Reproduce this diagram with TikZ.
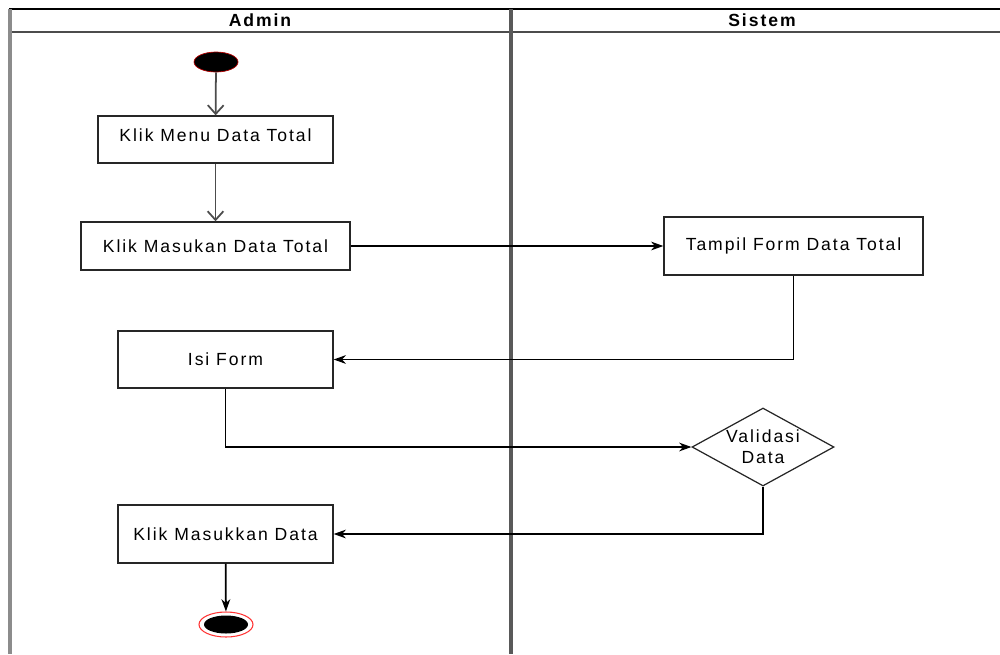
\documentclass[tikz,border=0pt]{standalone}
\usepackage{fontspec}
\setmainfont{Liberation Sans}
\newfontfamily\lanefont[LetterSpace=11]{Liberation Sans}
\usetikzlibrary{shapes.geometric,arrows.meta}
\begin{document}
\begin{tikzpicture}[x=0.2mm,y=-0.2mm,
  every node/.style={font=\lanefont\fontsize{10}{12}\selectfont},
  actbox/.style={draw=black!85,line width=0.8pt,fill=white,rectangle,inner sep=0pt},
  decbox/.style={draw=black!85,line width=0.7pt,diamond,aspect=1.82,inner sep=0pt,align=center},
  flow/.style={-{Stealth[length=7pt,width=5pt]},line width=0.6pt},
  vflow/.style={-{Straight Barb[length=5pt,width=9pt]},line width=1pt,black!70},
  lane/.style={line width=2.5pt,black!65}]
\useasboundingbox (0,0) rectangle (1000,654);
% swimlanes
\draw[line width=1pt] (9,9) -- (1000,9);
\draw[line width=1.2pt,black!70] (9,32) -- (1000,32);
\draw[lane,black!45] (10,9) -- (10,654);
\draw[lane] (511,9) -- (511,654);
\node[font=\lanefont\bfseries\fontsize{10}{12}\selectfont] (admin) at (260,20) {Admin};
\node[font=\lanefont\bfseries\fontsize{10}{12}\selectfont] (sistem) at (762,20) {Sistem};
% start / end
\node[ellipse,fill=black,draw=red!70!black,minimum width=44*0.2mm,minimum height=20*0.2mm,inner sep=0pt] (start) at (216,62) {};
\node[ellipse,draw=red!80,line width=0.6pt,minimum width=54*0.2mm,minimum height=25*0.2mm,inner sep=0pt,
  path picture={\fill[black] (path picture bounding box.center) ellipse [x radius=22*0.2mm,y radius=9*0.2mm];}] (stop) at (226,624.5) {};
% activities
\node[actbox,minimum width=235*0.2mm,minimum height=47*0.2mm] (menu) at (215.5,139.5) {\raisebox{5pt}{Klik Menu Data Total}};
\node[actbox,minimum width=269*0.2mm,minimum height=48*0.2mm] (masuk) at (215.5,246) {Klik Masukan Data Total};
\node[actbox,minimum width=259*0.2mm,minimum height=58*0.2mm] (tampil) at (793.5,246) {Tampil Form Data Total};
\node[actbox,minimum width=215*0.2mm,minimum height=57*0.2mm] (isi) at (225.5,359.5) {Isi Form};
\node[decbox,minimum width=142*0.2mm,minimum height=78*0.2mm] (valid) at (763,447) {Validasi\\Data};
\node[actbox,minimum width=215*0.2mm,minimum height=58*0.2mm] (simpan) at (225.5,534) {Klik Masukkan Data};
% flows
\draw[vflow] (start) -- (menu);
\draw[vflow] (menu) -- (masuk);
\draw[flow] (masuk) -- (tampil);
\draw[flow] (tampil.south) |- (isi.east);
\draw[flow] (isi.south) |- (valid.west);
\draw[flow] (valid.south) |- (simpan.east);
\draw[flow,line width=1pt] (simpan) -- (stop);
\end{tikzpicture}
\end{document}
